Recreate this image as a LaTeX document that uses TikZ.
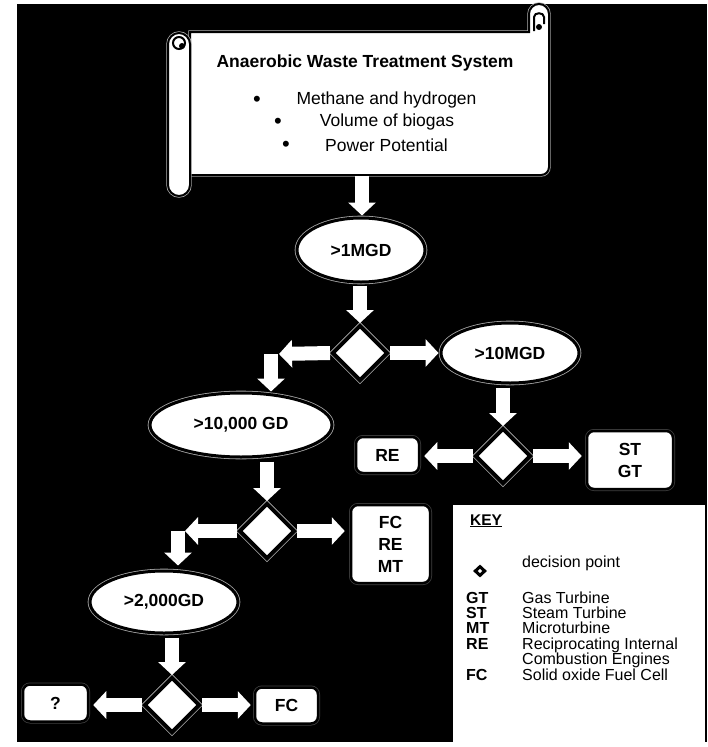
\documentclass[tikz,border=0pt]{standalone}
\usepackage{fontspec}
\setmainfont{Liberation Sans}
\usetikzlibrary{shapes.geometric,arrows.meta,calc}
\begin{document}
\begin{tikzpicture}[x=1pt,y=-1pt,
  ell/.style={ellipse, draw=black, fill=white, line width=3pt, inner sep=0pt,
    preaction={draw=gray!70, line width=4.6pt}, font=\fontsize{17.5}{21}\selectfont\bfseries},
  dec/.style={diamond, draw=black, fill=white, line width=4pt, inner sep=0pt,
    minimum width=56pt, minimum height=56pt, preaction={draw=gray!60, line width=5.6pt}},
  outbox/.style={rectangle, rounded corners=7pt, draw=black, fill=white, line width=2.5pt,
    inner sep=0pt, preaction={draw=gray!50!black, line width=4pt},
    font=\fontsize{17.5}{22}\selectfont\bfseries, align=center},
  scrollst/.style={draw=black, fill=white, line width=2pt, preaction={draw=gray!60, line width=3.4pt}},
  barrow/.style={draw=white, line width=14pt, -{Triangle[width=27pt,length=13pt]}},
  bigtxt/.style={inner sep=0pt, font=\fontsize{17.5}{21}\selectfont},
  bul/.style={inner sep=0pt, font=\fontsize{22}{22}\selectfont},
  keytxt/.style={anchor=base west, inner sep=0pt, font=\fontsize{16}{19}\selectfont},
  keyab/.style={anchor=base west, inner sep=0pt, font=\fontsize{16}{19}\selectfont\bfseries},
]
\useasboundingbox (0,0) rectangle (707,747);
\fill[white] (0,0) rectangle (707,747);
\fill[black] (17,4) rectangle (707,742);

% ---------- scroll ----------
\path[scrollst] (190,175) -- (190,32) -- (529,32) -- (529,14)
  .. controls (529,8.5) and (533.5,4) .. (539,4)
  .. controls (544.5,4) and (549,8.5) .. (549,14) -- (549,167)
  .. controls (549,171.5) and (545.5,175) .. (541,175) -- cycle;
\draw[black, line width=2pt] (534,31) -- (534,17) .. controls (534,12) and (544,12) .. (544,17) -- (544,24);
\fill[black] (539,27) circle (3pt);
\path[scrollst] (168,44) -- (168,185) .. controls (168,191) and (173,196) .. (179,196)
  .. controls (185,196) and (190,191) .. (190,185) -- (190,44)
  .. controls (190,38) and (185,33) .. (179,33) .. controls (173,33) and (168,38) .. (168,44) -- cycle;
\draw[black, line width=2pt] (179,43) circle (6pt);
\fill[black] (182,46) circle (3pt);
\coordinate (scrbot) at (362,176);

\node[bigtxt, font=\fontsize{17.5}{21}\selectfont\bfseries] (title) at (365,63) {Anaerobic Waste Treatment System};
\node[bigtxt] (l1) at (386.5,100) {Methane and hydrogen};
\node[bigtxt] (l2) at (387,122) {Volume of biogas};
\node[bigtxt] (l3) at (386.5,145) {Power Potential};
\node[bul] (p1) at (257,101) {\textbullet};
\node[bul] (p2) at (278,123) {\textbullet};
\node[bul] (p3) at (286,146) {\textbullet};

% ---------- flow nodes ----------
\node[ell, minimum width=128pt, minimum height=64pt] (e1) at (361,250) {>1MGD};
\node[dec] (d1) at (360,353) {};
\node[ell, minimum width=138pt, minimum height=60pt] (e2) at (510,353) {>10MGD};
\node[ell, minimum width=182pt, minimum height=64pt] (e3) at (241,425) {>10,000 GD};
\node[dec] (d2) at (503,456) {};
\node[outbox, minimum width=63pt, minimum height=36pt] (re) at (387.5,455) {RE};
\node[outbox, minimum width=86pt, minimum height=58pt] (stgt) at (630,460) {ST\\GT};
\node[dec] (d3) at (267,531) {};
\node[outbox, minimum width=79pt, minimum height=78pt] (fcremt) at (390.5,544) {FC\\RE\\MT};
\node[ell, minimum width=148pt, minimum height=62pt] (e4) at (164,602) {>2,000GD};
\node[dec] (d4) at (172,705) {};
\node[outbox, minimum width=65pt, minimum height=37pt] (q) at (55.5,703) {?};
\node[outbox, minimum width=63pt, minimum height=36pt] (fc) at (286.5,705.5) {FC};

\coordinate (k1) at (279,354);
\coordinate (k1b) at (271,354);
\coordinate (k2) at (185,531);
\coordinate (k2b) at (178,531);

% ---------- arrows ----------
\draw[barrow, shorten >=1pt] (scrbot) -- (scrbot |- e1.north);
\draw[barrow, shorten <=2pt] (d1.north |- e1.south) -- (d1.north);
\draw[barrow] (d1.west) -- (k1);
\draw[barrow] (k1b) -- (k1b |- e3.north);
\draw[barrow, shorten >=1pt] (d1.east) -- (e2.west);
\draw[barrow, shorten <=3pt] (d2.north |- e2.south) -- (d2.north);
\draw[barrow, shorten >=4pt] (d2.west) -- (d2.west -| re.east);
\draw[barrow, shorten >=4pt] (d2.east) -- (d2.east -| stgt.west);
\draw[barrow, shorten <=3pt] (d3.north |- e3.south) -- (d3.north);
\draw[barrow, shorten >=5pt] (d3.east) -- (d3.east -| fcremt.west);
\draw[barrow] (d3.west) -- (k2);
\draw[barrow, shorten >=4pt] (k2b) -- (k2b |- e4.north);
\draw[barrow, shorten <=3pt] (d4.north |- e4.south) -- (d4.north);
\draw[barrow, shorten >=4pt] (d4.west) -- (d4.west -| q.east);
\draw[barrow, shorten >=3pt] (d4.east) -- (d4.east -| fc.west);

% ---------- key ----------
\node[fill=white, inner sep=0pt, minimum width=252pt, minimum height=242pt, anchor=north west] (key) at (453,505) {};
\node[anchor=base west, inner sep=0pt, font=\fontsize{15.5}{19}\selectfont\bfseries] (keyt) at (470,525) {\underline{KEY}};
\node[diamond, fill=black, inner sep=0pt, minimum width=14pt, minimum height=13pt] (kd) at (480,571) {};
\node[diamond, fill=white, inner sep=0pt, minimum width=4.5pt, minimum height=4.5pt] (kdi) at (480,571) {};
\node[keytxt] (kdt) at (522,567) {decision point};
\node[keyab] (a1) at (466,603.7) {GT};
\node[keytxt] (t1) at (522,603.7) {Gas Turbine};
\node[keyab] (a2) at (466,618.7) {ST};
\node[keytxt] (t2) at (522,618.7) {Steam Turbine};
\node[keyab] (a3) at (466,633.7) {MT};
\node[keytxt] (t3) at (522,633.7) {Microturbine};
\node[keyab] (a4) at (466,649.7) {RE};
\node[keytxt] (t4) at (522,649.7) {Reciprocating Internal};
\node[keytxt] (t5) at (522,664.7) {Combustion Engines};
\node[keyab] (a6) at (466,680.7) {FC};
\node[keytxt] (t6) at (522,680.7) {Solid oxide Fuel Cell};
\end{tikzpicture}
\end{document}
